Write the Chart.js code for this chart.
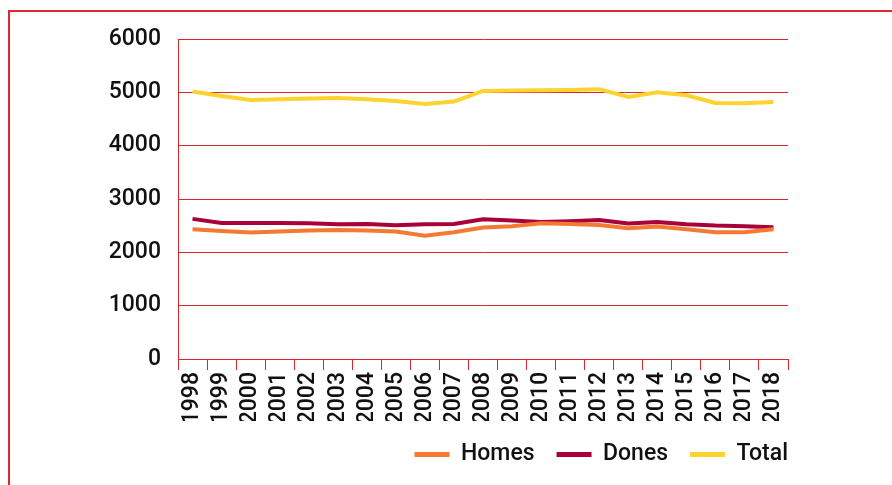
<!DOCTYPE html>
<html>
<head>
<meta charset="utf-8">
<script src="https://cdn.jsdelivr.net/npm/chart.js@4.4.1/dist/chart.umd.min.js"></script>
<style>
    html, body { margin: 0; padding: 0; background: #fff; }
    #wrap { position: relative; width: 892px; height: 485px; }
    #frame {
        position: absolute; left: 8px; top: 10px; right: 0; bottom: 0;
        border-top: 2px solid #dd2a30; border-left: 2px solid #dd2a30;
    }
    canvas { position: absolute; left: 0; top: 0; }
</style>
</head>
<body>
<div id="wrap">
    <div id="frame"></div>
    <canvas id="lineChart" width="892" height="485"></canvas>
</div>
<script>
// Series
const years = ['1998', '1999', '2000', '2001', '2002', '2003', '2004', '2005', '2006', '2007',
    '2008', '2009', '2010', '2011', '2012', '2013', '2014', '2015', '2016', '2017', '2018'];
const homes = [2433, 2401, 2370, 2389, 2408, 2420, 2408, 2389, 2313, 2376,
    2464, 2489, 2545, 2533, 2514, 2451, 2483, 2433, 2376, 2376, 2433];
const dones = [2627, 2552, 2552, 2552, 2545, 2526, 2533, 2508, 2526, 2533,
    2620, 2595, 2570, 2583, 2608, 2539, 2570, 2526, 2501, 2489, 2470];
const total = [5015, 4933, 4858, 4870, 4883, 4896, 4870, 4839, 4783, 4827,
    5027, 5033, 5040, 5046, 5059, 4915, 5003, 4946, 4802, 4796, 4820];
const yTicks = [0, 1000, 2000, 3000, 4000, 5000, 6000];

const gridRed = '#d9262c';
const fontFace = 'Roboto, "DejaVu Sans", sans-serif';
const legendGap = 22;

function renderChart() {
    const ctx = document.getElementById('lineChart').getContext('2d');
    new Chart(ctx, {
        type: 'line',
        data: {
            labels: years,
            datasets: [{
                label: 'Homes',
                data: homes,
                borderColor: '#f47a33',
                backgroundColor: '#f47a33',
                borderWidth: 4,
                pointRadius: 0,
                tension: 0
            }, {
                label: 'Dones',
                data: dones,
                borderColor: '#a9023a',
                backgroundColor: '#a9023a',
                borderWidth: 4,
                pointRadius: 0,
                tension: 0
            }, {
                label: 'Total',
                data: total,
                borderColor: '#fdd330',
                backgroundColor: '#fdd330',
                borderWidth: 4,
                pointRadius: 0,
                tension: 0
            }]
        },
        options: {
            responsive: false,
            animation: false,
            layout: {
                padding: { left: 0, top: 39, right: 104, bottom: 9 }
            },
            scales: {
                x: {
                    offset: true,
                    grid: {
                        offset: true,
                        drawOnChartArea: false,
                        drawTicks: true,
                        tickLength: 11,
                        color: gridRed,
                        lineWidth: 1
                    },
                    border: { display: true, color: gridRed, width: 1 },
                    ticks: {
                        autoSkip: false,
                        maxRotation: 90,
                        minRotation: 90,
                        padding: 2,
                        color: '#111',
                        font: { family: fontFace, size: 23, weight: 500 }
                    },
                    afterFit: scale => { scale.height = 62; }
                },
                y: {
                    min: 0,
                    max: 6000,
                    afterBuildTicks: scale => {
                        scale.ticks = yTicks.map(v => ({ value: v }));
                    },
                    grid: {
                        drawTicks: false,
                        color: gridRed,
                        lineWidth: 1
                    },
                    border: { display: true, color: gridRed, width: 1 },
                    ticks: {
                        padding: 17,
                        color: '#111',
                        font: { family: fontFace, size: 23, weight: 500 },
                        callback: v => String(v)
                    },
                    afterFit: scale => { scale.width = 178; }
                }
            },
            plugins: {
                legend: {
                    position: 'bottom',
                    align: 'end',
                    labels: {
                        boxWidth: 35,
                        boxHeight: 5,
                        padding: legendGap,
                        color: '#111',
                        font: { family: fontFace, size: 23, weight: 500 },
                        generateLabels: chart => {
                            const items = Chart.defaults.plugins.legend.labels.generateLabels(chart);
                            items.forEach(it => { it.lineWidth = 0; });
                            return items;
                        }
                    }
                },
                tooltip: { enabled: false }
            }
        },
        plugins: [{
            // legend ends flush with the plot's right edge, no trailing gap
            id: 'legendShift',
            afterLayout: chart => {
                chart.legend.left += legendGap;
                chart.legend.right += legendGap;
            }
        }]
    });
}

document.addEventListener('DOMContentLoaded', renderChart);
</script>
</body>
</html>
